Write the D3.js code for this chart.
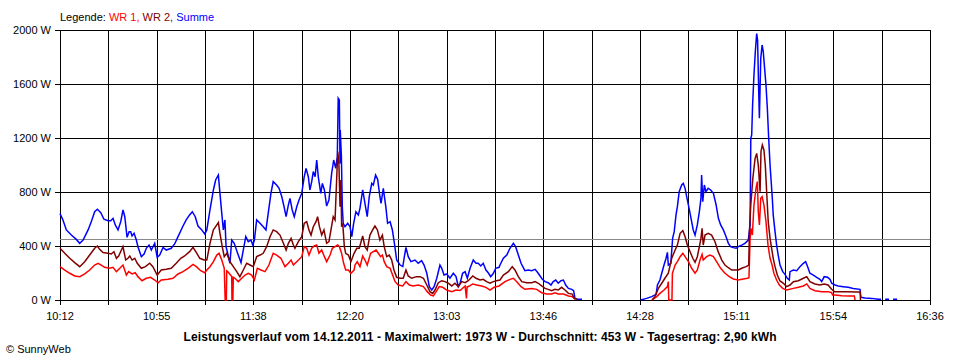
<!DOCTYPE html>
<html><head><meta charset="utf-8">
<script src="https://cdn.jsdelivr.net/npm/d3@7"></script>
<style>
html,body{margin:0;padding:0;background:#fff;}
svg{display:block;}
text{font-family:"Liberation Sans",Arial,sans-serif;}
</style></head>
<body><svg id="chart" width="960" height="360"></svg>
<script>
// Time is given in minutes after 10:12; null breaks a line.
const xTickLabels = ["10:12","10:55","11:38","12:20","13:03","13:46","14:28","15:11","15:54","16:36"];
const yTicks = [0, 400, 800, 1200, 1600, 2000];
const average = 453;
const title = "Leistungsverlauf vom 14.12.2011 - Maximalwert: 1973 W - Durchschnitt: 453 W - Tagesertrag: 2,90 kWh";

const summe = [
[0,640],[1.3,593],[2.8,519],[5.0,481],[7.2,449],[8.7,420],[10.2,444],[12.4,519],[13.8,580],[15.3,654],[16.5,672],[18.0,647],[19.4,598],[21.2,587],[22.4,587],[23.4,605],[24.4,556],[25.6,519],[26.8,580],[27.8,667],[28.6,617],[29.6,464],[30.5,506],[31.2,506],[31.8,474],[32.7,494],[33.7,444],[34.4,395],[35.9,321],[37.1,341],[38.1,383],[39.3,407],[40.3,370],[41.8,420],[42.9,316],[44.0,333],[45.5,390],[46.9,370],[49.1,383],[50.6,415],[52.1,469],[54.3,548],[55.7,593],[57.2,630],[58.4,654],[59.7,617],[60.9,548],[62.4,523],[63.9,489],[64.8,519],[66.2,667],[67.7,815],[68.7,889],[69.9,926],[70.6,790],[71.4,642],[72.1,519],[72.8,593],[73.3,395],[74.0,346],[75.0,272],[75.8,444],[76.9,420],[78.4,346],[79.9,277],[80.9,370],[82.0,469],[83.1,432],[84.3,444],[85.1,407],[85.8,444],[86.8,593],[88.3,568],[89.7,543],[90.9,519],[91.9,642],[93.1,790],[94.1,877],[95.6,852],[96.7,827],[97.9,765],[98.9,691],[99.8,617],[100.8,704],[101.5,753],[102.5,667],[103.4,617],[104.5,691],[105.5,741],[106.7,790],[107.8,913],[108.6,975],[109.6,913],[110.3,815],[111.1,877],[111.8,951],[112.6,913],[113.3,1037],[114.0,913],[115.1,790],[115.8,864],[116.7,815],[117.7,696],[118.7,741],[119.9,938],[120.8,1037],[121.7,975],[122.4,1062],[122.8,1494],[123.3,1481],[123.6,1012],[123.7,1259],[124.2,1062],[124.6,691],[125.0,568],[125.8,543],[127.0,568],[128.0,543],[128.8,469],[129.5,556],[130.6,654],[131.7,630],[132.4,679],[133.6,815],[134.6,716],[135.6,617],[136.5,765],[137.6,864],[138.3,852],[139.3,926],[140.2,894],[141.2,765],[141.7,716],[142.7,827],[143.8,691],[144.6,568],[145.7,580],[146.7,519],[147.6,420],[148.6,296],[150.1,259],[151.3,247],[152.0,321],[152.7,390],[153.7,321],[154.9,284],[156.7,296],[158.1,272],[159.6,291],[160.7,259],[161.9,198],[163.0,99],[164.1,74],[165.1,99],[166.3,161],[167.7,259],[168.5,235],[169.5,185],[170.7,193],[172.1,161],[173.6,198],[174.8,173],[175.8,99],[176.6,124],[177.7,198],[178.8,210],[179.8,161],[181.0,235],[182.4,296],[183.6,272],[184.6,272],[185.7,252],[186.8,272],[188.0,222],[189.0,202],[190.1,173],[191.3,198],[192.3,235],[193.8,242],[194.2,259],[195.7,309],[197.2,333],[198.6,383],[200.1,420],[201.1,395],[202.3,333],[203.5,272],[205.2,217],[206.7,222],[208.2,217],[209.7,227],[210.9,202],[211.9,178],[212.9,153],[214.1,136],[215.5,128],[216.7,111],[217.7,136],[218.8,148],[219.9,124],[221.1,143],[222.2,148],[223.2,111],[224.4,86],[225.9,79],[226.7,69],[227.3,12],[228.5,5],[230.4,5],[230.5,null],
[256.3,0],[258.9,12],[261.2,25],[263.1,42],[263.7,111],[264.8,148],[265.6,198],[266.6,259],[267.5,309],[268.1,353],[268.5,259],[269.6,272],[270.4,457],[271.1,506],[271.9,630],[272.5,691],[273.3,802],[274.4,852],[275.1,864],[275.9,827],[276.6,765],[277.8,667],[278.8,580],[279.5,519],[280.3,481],[281.3,556],[282.2,654],[282.9,753],[283.2,926],[283.7,728],[284.4,852],[285.1,802],[286.1,827],[287.2,815],[288.4,790],[289.6,704],[290.6,605],[291.6,556],[292.8,519],[294.0,469],[295.0,420],[296.0,395],[297.2,388],[298.4,383],[299.4,395],[300.9,407],[302.3,420],[303.8,444],[304.6,556],[304.9,1198],[305.3,1222],[305.7,1444],[306.3,1667],[306.9,1840],[307.5,1973],[307.9,1926],[308.4,1543],[308.7,1346],[309.3,1790],[309.9,1889],[310.4,1840],[311.0,1716],[311.6,1593],[312.2,1420],[312.8,1198],[313.4,1000],[314.0,852],[314.4,753],[314.8,630],[315.6,506],[316.3,407],[317.0,333],[317.8,259],[319.0,210],[320.0,190],[321.0,161],[321.9,148],[322.2,210],[323.7,222],[325.2,217],[326.6,247],[328.1,272],[329.1,284],[330.0,247],[331.0,198],[332.5,185],[334.0,168],[335.4,153],[336.2,136],[337.3,173],[338.8,168],[339.9,153],[340.6,124],[342.1,111],[343.5,104],[345.7,99],[347.9,94],[350.1,86],[353.1,79],[353.5,20],[355.3,15],[358.3,12],[361.2,5],[362.4,5],[362.5,null],
[364.2,5],[365.9,5],[366.0,null],[367.7,5],[369.5,5]
];

const wr2 = [
[0,383],[2.1,346],[4.3,309],[6.5,277],[8.7,247],[10.9,284],[13.1,333],[15.3,383],[16.5,400],[17.5,375],[19.0,351],[21.2,346],[22.6,341],[23.8,358],[24.9,309],[25.9,326],[27.1,370],[27.8,395],[29.0,296],[30.0,309],[30.8,326],[31.8,296],[33.0,309],[34.1,272],[35.9,235],[37.7,247],[39.6,272],[41.0,247],[42.9,185],[44.7,222],[46.9,227],[49.1,235],[51.3,272],[53.3,309],[55.0,326],[57.2,358],[58.7,390],[60.2,351],[61.7,309],[63.6,296],[64.8,296],[66.2,420],[67.7,519],[68.7,543],[69.9,573],[70.6,494],[71.6,395],[72.5,321],[73.6,346],[75.0,284],[76.5,247],[78.0,210],[79.4,173],[80.9,222],[82.4,272],[83.9,259],[85.3,247],[86.8,321],[88.3,333],[89.7,346],[91.2,395],[92.7,469],[94.1,519],[95.6,506],[97.1,481],[98.6,420],[99.8,370],[100.8,420],[102.0,457],[103.0,407],[103.7,383],[105.2,432],[106.7,469],[107.8,568],[108.9,580],[109.9,519],[110.8,481],[111.8,543],[113.0,580],[113.7,617],[114.5,543],[115.5,481],[116.5,519],[117.7,420],[118.7,432],[119.6,519],[120.6,617],[121.4,593],[122.1,889],[122.6,1099],[123.1,1012],[123.6,691],[124.0,889],[124.3,543],[124.8,568],[125.5,395],[126.1,346],[127.3,333],[128.4,284],[129.8,346],[131.0,383],[132.1,383],[133.6,474],[134.6,395],[135.6,370],[136.8,481],[138.0,519],[139.0,548],[140.1,519],[141.2,444],[142.3,481],[143.1,395],[144.2,321],[145.3,333],[146.4,296],[147.4,222],[148.6,168],[150.1,161],[151.5,161],[152.7,222],[153.7,178],[155.2,161],[157.4,173],[158.9,173],[160.4,161],[161.9,111],[163.3,62],[164.5,49],[165.5,74],[167.0,128],[168.5,143],[169.9,136],[171.4,124],[172.9,104],[174.3,124],[175.8,99],[177.3,136],[178.8,128],[180.2,143],[182.2,178],[183.6,161],[185.4,148],[186.8,153],[188.3,136],[189.8,124],[191.3,136],[192.7,143],[194.2,148],[195.7,185],[197.9,210],[199.6,247],[200.8,222],[202.3,173],[203.8,136],[206.0,128],[208.2,128],[209.7,136],[211.1,124],[212.6,104],[214.1,86],[215.5,79],[217.0,69],[218.5,79],[219.9,74],[221.4,94],[222.9,74],[224.4,49],[226.1,44],[227.0,12],[228.1,5],[228.2,null],
[261.3,0],[262.6,25],[264.1,86],[265.6,124],[267.0,161],[268.5,198],[270.0,309],[271.5,370],[272.5,407],[273.7,494],[274.9,514],[275.9,469],[276.9,407],[278.1,358],[279.3,309],[280.3,279],[281.3,321],[282.2,395],[282.9,457],[283.4,531],[283.9,407],[284.7,481],[286.1,494],[287.6,481],[289.1,432],[290.5,358],[292.1,296],[293.5,259],[295.0,239],[296.5,222],[297.9,222],[299.4,222],[300.9,235],[302.8,247],[304.0,259],[304.3,506],[304.9,704],[305.8,901],[306.8,1049],[307.5,1086],[308.2,1000],[309.0,802],[309.4,1099],[310.0,1148],[310.7,1111],[311.3,1000],[311.9,802],[312.6,580],[313.4,457],[314.1,383],[314.8,309],[315.6,247],[316.6,185],[317.8,141],[319.3,124],[320.7,99],[322.2,111],[323.7,136],[325.9,143],[328.1,161],[329.6,173],[331.0,136],[333.2,119],[335.4,111],[337.3,119],[339.0,111],[340.6,79],[341.8,62],[346.5,62],[352.4,60],[353.2,60],[353.3,0]
];

const wr1 = [
[0,247],[2.1,222],[4.3,198],[6.5,178],[8.7,173],[10.9,193],[13.1,222],[15.3,259],[16.8,272],[18.2,259],[19.7,242],[21.9,235],[23.4,242],[24.9,210],[26.4,235],[27.8,259],[29.3,185],[30.3,210],[31.8,193],[33.2,202],[34.4,173],[36.2,143],[38.1,161],[40.0,168],[41.8,148],[43.3,128],[44.7,148],[47.7,153],[49.9,161],[52.1,193],[54.3,210],[56.5,235],[58.7,264],[60.2,247],[62.1,217],[63.9,202],[64.8,222],[66.2,247],[67.7,284],[69.2,333],[70.2,346],[71.4,296],[72.5,235],[72.9,0],[73.4,0],[73.6,215],[74.0,210],[75.8,173],[75.9,0],[76.3,0],[76.5,168],[77.2,161],[78.7,136],[80.2,161],[81.7,185],[83.1,198],[84.6,185],[85.8,148],[87.1,235],[88.7,222],[90.5,210],[92.2,259],[94.1,346],[95.6,333],[97.5,309],[99.3,247],[100.8,272],[102.0,296],[103.0,259],[104.5,284],[106.7,321],[107.8,395],[108.9,383],[109.9,333],[111.1,383],[112.2,400],[113.3,407],[114.3,346],[115.5,370],[116.7,321],[117.7,284],[119.2,333],[120.2,383],[121.4,395],[122.6,407],[123.3,395],[124.3,346],[125.2,272],[126.1,222],[127.3,222],[128.4,198],[129.8,222],[130.2,259],[131.2,284],[132.4,247],[133.6,326],[134.6,296],[135.6,259],[137.1,346],[138.3,358],[139.5,370],[140.5,346],[141.5,321],[142.3,333],[143.1,284],[144.2,247],[145.7,235],[146.8,185],[147.9,136],[149.3,111],[151.3,104],[152.7,136],[154.2,111],[155.9,104],[158.1,111],[160.4,99],[162.1,62],[163.6,37],[164.8,30],[166.0,62],[167.4,99],[168.9,94],[170.7,74],[172.9,62],[174.8,74],[176.6,70],[178.8,104],[179.4,12],[179.7,99],[180.2,99],[182.2,119],[183.9,111],[186.1,104],[188.0,94],[189.8,74],[191.6,94],[193.8,104],[196.4,136],[198.6,153],[200.1,161],[201.6,136],[203.5,99],[205.2,79],[208.2,86],[210.4,79],[212.6,54],[214.8,44],[217.0,44],[218.5,54],[219.9,44],[222.2,44],[224.4,30],[226.1,25],[227.3,5],[227.4,null],
[261.3,0],[263.4,25],[264.8,49],[266.6,74],[268.1,99],[268.5,136],[268.7,0],[270.1,0],[270.3,198],[271.5,259],[272.5,284],[273.7,321],[274.9,346],[275.9,321],[277.4,284],[278.8,235],[280.3,198],[281.3,222],[282.5,296],[283.4,338],[283.9,296],[285.4,321],[286.9,333],[288.4,321],[289.8,284],[291.6,235],[293.5,198],[295.4,173],[297.2,156],[299.4,148],[301.6,156],[303.4,161],[304.1,165],[304.6,457],[305.0,531],[305.6,481],[306.3,704],[307.2,827],[307.8,877],[308.2,654],[308.7,556],[309.3,753],[309.9,765],[310.7,704],[311.6,580],[312.5,407],[313.4,309],[314.3,259],[315.1,198],[316.3,148],[317.5,111],[319.0,86],[320.7,74],[323.7,86],[325.9,94],[328.1,104],[329.6,119],[331.0,86],[333.2,69],[336.2,62],[339.0,62],[340.6,54],[341.0,37],[342.1,37],[345.1,32],[347.9,30],[350.6,30],[350.9,0]
];

const svg = d3.select("#chart");
const W0 = 60, W1 = 930, H0 = 300, H1 = 30;
const x = d3.scaleLinear().domain([0, 384]).range([W0, W1]);
const y = d3.scaleLinear().domain([0, 2000]).range([H0, H1]);

// Grid
const g = svg.append("g").attr("shape-rendering", "crispEdges");
const minorTicks = d3.range(0, 19).map(i => i * 384 / 18);
g.selectAll("line.v").data(minorTicks).enter().append("line")
  .attr("x1", d => Math.round(x(d)) + 0.5).attr("x2", d => Math.round(x(d)) + 0.5)
  .attr("y1", H1).attr("y2", H0 + 5)
  .attr("stroke", "#000").attr("stroke-width", 1);
g.selectAll("line.h").data(yTicks).enter().append("line")
  .attr("x1", W0 - 5).attr("x2", W1 + 1)
  .attr("y1", d => Math.round(y(d)) + 0.5).attr("y2", d => Math.round(y(d)) + 0.5)
  .attr("stroke", "#000").attr("stroke-width", 1);
// Average line
g.append("line")
  .attr("x1", W0).attr("x2", W1)
  .attr("y1", Math.round(y(average)) + 0.5).attr("y2", Math.round(y(average)) + 0.5)
  .attr("stroke", "#888").attr("stroke-width", 1);

// Axis labels
svg.selectAll("text.ytick").data(yTicks).enter().append("text")
  .attr("x", 51).attr("y", d => y(d) + 4)
  .attr("text-anchor", "end").attr("font-size", 11).attr("fill", "#000")
  .text(d => d + " W");
svg.selectAll("text.xtick").data(xTickLabels).enter().append("text")
  .attr("x", (d, i) => x(i * 384 / 9)).attr("y", 320)
  .attr("text-anchor", "middle").attr("font-size", 11).attr("fill", "#000")
  .text(d => d);

// Lines
const line = d3.line().defined(d => d[1] !== null).x(d => x(d[0])).y(d => y(d[1]));
const series = [
  {data: summe, color: "#0000ff"},
  {data: wr1, color: "#ff0000"},
  {data: wr2, color: "#800000"}
];
svg.selectAll("path.s").data(series).enter().append("path")
  .attr("d", d => line(d.data)).attr("fill", "none")
  .attr("stroke", d => d.color).attr("stroke-width", 1.5)
  .attr("stroke-linejoin", "miter");

// Legend
const leg = svg.append("text").attr("x", 60).attr("y", 21).attr("font-size", 11);
[["Legende: ", "#000"], ["WR 1, ", "#ff0000"], ["WR 2, ", "#800000"], ["Summe", "#0000ff"]]
  .forEach(([t, c]) => leg.append("tspan").attr("fill", c).text(t));

// Title & footer
svg.append("text").attr("x", 480).attr("y", 341).attr("text-anchor", "middle")
  .attr("font-size", 12).attr("font-weight", "bold")
  .attr("textLength", 593).attr("lengthAdjust", "spacing").text(title);
svg.append("text").attr("x", 6).attr("y", 353).attr("font-size", 11).text("\u00A9 SunnyWeb");
</script></body></html>
